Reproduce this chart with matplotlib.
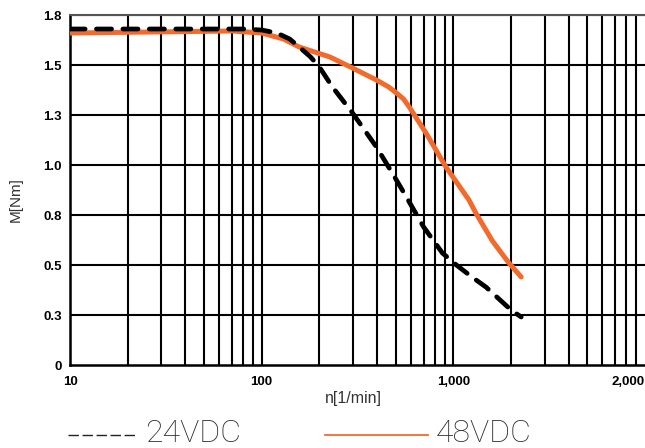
import numpy as np
import matplotlib.pyplot as plt
from matplotlib.lines import Line2D

# speed [1/min] vs torque [Nm]
n_24 = [10, 60, 80, 100, 120, 140, 157, 180, 200, 234, 298, 397, 480, 569, 700, 877, 1037, 1250, 1479, 2000, 2260]
m_24 = [1.68, 1.68, 1.68, 1.675, 1.66, 1.63, 1.59, 1.54, 1.49, 1.39, 1.26, 1.09, 0.96, 0.84, 0.69, 0.56, 0.50, 0.44, 0.39, 0.275, 0.24]

n_48 = [10, 70, 100, 130, 157, 227, 298, 397, 460, 505, 550, 589, 720, 915, 1207, 1310, 1600, 1950, 2260]
m_48 = [1.66, 1.67, 1.66, 1.63, 1.59, 1.54, 1.485, 1.425, 1.39, 1.36, 1.33, 1.29, 1.16, 0.99, 0.825, 0.76, 0.62, 0.51, 0.44]

y_ticks = [0, 0.25, 0.5, 0.75, 1.0, 1.25, 1.5, 1.75]
y_labels = ['0', '0.3', '0.5', '0.8', '1.0', '1.3', '1.5', '1.8']
x_ticks = [10, 100, 1000, 10000]
x_labels = ['10', '100', '1,000', '2,000']

ORANGE = '#f26b2d'

fig = plt.figure(figsize=(6.45, 4.48), dpi=100)
ax = fig.add_axes([70/645, 1 - 365/448, 575/645, 350/448])

ax.set_xscale('log')
ax.set_xlim(10, 10000)
ax.set_ylim(0, 1.75)

# grid: every minor decade line plus the quarter-Nm lines
for d in [10, 100, 1000]:
    for k in range(1, 10):
        ax.axvline(d * k, color='black', lw=1.5, zorder=1)
for y in y_ticks[1:]:
    ax.axhline(y, color='black', lw=1.5, zorder=1)

ax.plot(n_48, m_48, color=ORANGE, lw=3.6, solid_capstyle='round', zorder=3)
ax.plot(n_24, m_24, color='black', lw=3.4, linestyle=(0, (3.2, 2.4)),
        dash_capstyle='round', zorder=4)

ax.set_yticks(y_ticks)
ax.set_yticklabels(y_labels, fontweight='bold', fontsize=9.5, family='Liberation Sans')
ax.set_xticks(x_ticks)
ax.set_xticklabels(x_labels, fontweight='bold', fontsize=9.5, family='Liberation Sans')
ax.get_xticklabels()[-1].set_horizontalalignment('right')
ax.xaxis.set_minor_locator(plt.NullLocator())
ax.tick_params(length=0, pad=6)
ax.tick_params(axis='x', pad=8)

for s in ['left', 'bottom']:
    ax.spines[s].set_color('black')
    ax.spines[s].set_linewidth(1.8)
ax.spines['top'].set_color('#555555')
ax.spines['top'].set_linewidth(1.5)
ax.spines['right'].set_visible(False)

fig.text(16/645, 1 - 200/448, 'M[Nm]', rotation=90, ha='center', va='center',
         fontsize=11, color='#333333', family='Liberation Sans')
fig.text(353/645, 1 - 398/448, 'n[1/min]', ha='center', va='center',
         fontsize=11.5, color='#333333', family='Liberation Sans')

# legend underneath, drawn by hand
fig.add_artist(Line2D([68/645, 136/645], [1 - 435/448] * 2, color='#222222', lw=1.0,
                      linestyle=(0, (7.5, 2.6))))
fig.text(145/645, 1 - 433/448, '24VDC', ha='left', va='center', fontsize=23,
         color='#2a2a2a', family='Roboto', fontweight='light')
fig.add_artist(Line2D([325/645, 428/645], [1 - 435/448] * 2, color=ORANGE, lw=1.3))
fig.text(436/645, 1 - 433/448, '48VDC', ha='left', va='center', fontsize=23,
         color='#2a2a2a', family='Roboto', fontweight='light')

fig.savefig('out.png', dpi=100)
